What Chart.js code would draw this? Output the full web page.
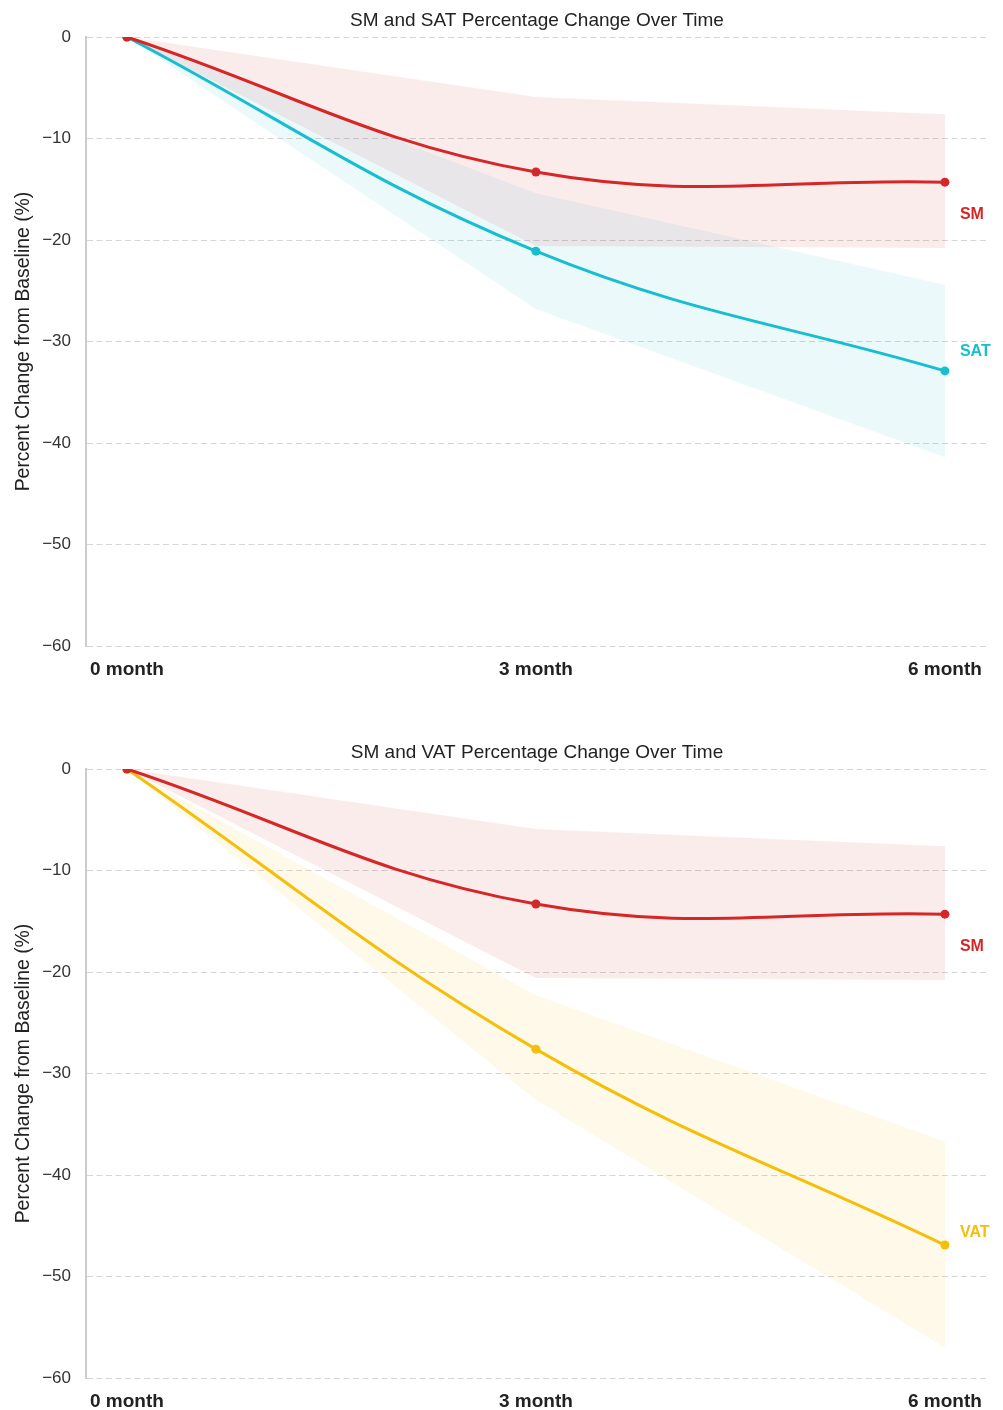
<!DOCTYPE html>
<html><head><meta charset="utf-8">
<script src="https://cdn.jsdelivr.net/npm/chart.js@4.4.1/dist/chart.umd.min.js"></script>
<style>
html,body{margin:0;padding:0;background:#fff;overflow:hidden;width:1003px;height:1410px;}
canvas{position:absolute;left:0;}
#c1{top:0;}
#c2{top:732px;}
</style></head><body>
<canvas id="c1" width="1003" height="690"></canvas>
<canvas id="c2" width="1003" height="690"></canvas>
<script>
const months = [0, 3, 6];
const monthLabels = ['0 month', '3 month', '6 month'];
const yTicks = [0, -10, -20, -30, -40, -50, -60];

const smMean  = [0, -13.3, -14.3];
const smUpper = [0, -5.9, -7.6];
const smLower = [0, -20.6, -20.8];

const satMean  = [0, -21.1, -32.9];
const satUpper = [0, -15.4, -24.4];
const satLower = [0, -26.8, -41.4];

const vatMean  = [0, -27.6, -46.9];
const vatUpper = [0, -22.3, -36.7];
const vatLower = [0, -32.6, -57.0];

// end-label anchors (value units)
const smLabelY = -17.5;
const satLabelY = -31.0;
const vatLabelY = -45.7;

const FONT = "'Liberation Sans', Arial, Helvetica, sans-serif";
const RED = '#d62728', CYAN = '#17becf', GOLD = '#f5be0a';
const RED_F = 'rgba(214,39,40,0.085)', CYAN_F = 'rgba(23,190,207,0.085)', GOLD_F = 'rgba(245,190,10,0.09)';

const pts = arr => arr.map((v, i) => ({x: months[i], y: v}));

const endLabelPlugin = {
  id: 'endLabels',
  afterDatasetsDraw(chart, args, opts) {
    const {ctx, scales: {x, y}} = chart;
    ctx.save();
    ctx.font = 'bold 16px ' + FONT;
    ctx.textAlign = 'left';
    ctx.textBaseline = 'middle';
    (opts.items || []).forEach(it => {
      ctx.fillStyle = it.color;
      ctx.fillText(it.text, x.getPixelForValue(months[months.length - 1]) + 15, y.getPixelForValue(it.y));
    });
    ctx.restore();
  }
};

function makeChart(id, title, series) {
  const datasets = [];
  series.forEach(s => {
    datasets.push({data: pts(s.upper), borderWidth: 0, borderColor: 'rgba(0,0,0,0)', pointRadius: 0, tension: 0, fill: false, order: 2});
    datasets.push({data: pts(s.lower), borderWidth: 0, borderColor: 'rgba(0,0,0,0)', pointRadius: 0, tension: 0, fill: '-1', backgroundColor: s.fill, order: 2});
  });
  series.forEach(s => {
    datasets.push({data: pts(s.mean), borderColor: s.color, backgroundColor: s.color, borderWidth: 3,
      pointRadius: 4.5, pointBackgroundColor: s.color, pointBorderWidth: 0, tension: 0.4, fill: false, order: 0});
  });
  return new Chart(document.getElementById(id), {
    type: 'line',
    data: {datasets},
    plugins: [endLabelPlugin],
    options: {
      responsive: false,
      animation: false,
      events: [],
      layout: {padding: {left: 0, right: 15, top: 0, bottom: 9}},
      plugins: {
        legend: {display: false},
        tooltip: {enabled: false},
        title: {display: true, fullSize: false, text: title, color: '#222', font: {family: FONT, size: 19, weight: 'normal'}, padding: {top: 9, bottom: 5.2}},
        endLabels: {items: series.map(s => ({text: s.name, color: s.color, y: s.labelY}))}
      },
      scales: {
        x: {
          type: 'linear', min: -0.3, max: 6.316,
          afterBuildTicks: sc => { sc.ticks = months.map(v => ({value: v})); },
          afterFit: sc => { sc.height = 35; },
          grid: {display: false, drawTicks: false},
          border: {display: false},
          ticks: {autoSkip: false, maxRotation: 0, padding: 12, color: '#222',
            font: {family: FONT, size: 19, weight: 'bold'},
            callback: v => monthLabels[months.indexOf(v)]}
        },
        y: {
          min: -60, max: 0,
          afterBuildTicks: sc => { sc.ticks = yTicks.map(v => ({value: v})); },
          afterFit: sc => { sc.width = 86; },
          grid: {color: '#d6d6d6', lineWidth: 1, drawTicks: false},
          border: {display: true, color: '#cccccc', width: 2, dash: [6, 3.5]},
          ticks: {padding: 15, color: '#333', font: {family: FONT, size: 17},
            callback: v => v === 0 ? '0' : '\u2212' + Math.abs(v)},
          title: {display: true, text: 'Percent Change from Baseline (%)', color: '#222',
            font: {family: FONT, size: 19.4}, padding: {top: 12, bottom: 0}}
        }
      }
    }
  });
}

makeChart('c1', 'SM and SAT Percentage Change Over Time', [
  {name: 'SM', mean: smMean, upper: smUpper, lower: smLower, color: RED, fill: RED_F, labelY: smLabelY},
  {name: 'SAT', mean: satMean, upper: satUpper, lower: satLower, color: CYAN, fill: CYAN_F, labelY: satLabelY}
]);
makeChart('c2', 'SM and VAT Percentage Change Over Time', [
  {name: 'SM', mean: smMean, upper: smUpper, lower: smLower, color: RED, fill: RED_F, labelY: smLabelY},
  {name: 'VAT', mean: vatMean, upper: vatUpper, lower: vatLower, color: GOLD, fill: GOLD_F, labelY: vatLabelY}
]);
</script>
</body></html>
